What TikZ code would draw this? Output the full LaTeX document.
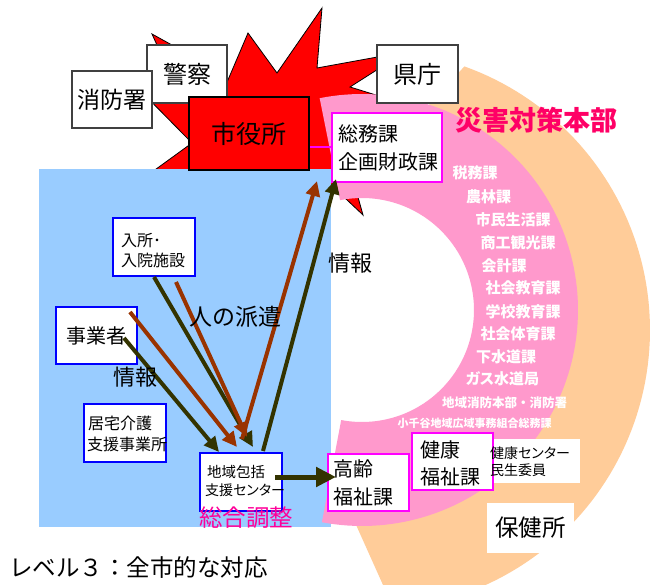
\documentclass[tikz,border=0pt]{standalone}
\usepackage{fontspec}
\usetikzlibrary{arrows.meta,calc}
\newfontfamily\jp{Noto Sans CJK JP}
\newfontfamily\jpp{Noto Sans CJK JP}[RawFeature=+palt]
\definecolor{skyb}{HTML}{99CCFF}
\definecolor{pinkr}{HTML}{FF99CC}
\definecolor{peach}{HTML}{FFCC99}
\definecolor{brn}{HTML}{993300}
\definecolor{olv}{HTML}{333300}
\definecolor{hotp}{HTML}{FF0066}
\definecolor{hotpb}{HTML}{FF0099}
\definecolor{starred}{HTML}{FF0000}
\definecolor{mag}{HTML}{FF00FF}
\definecolor{bbord}{HTML}{0000FF}
\tikzset{
  gbox/.style={draw=black!75, line width=1.2pt, fill=white, inner sep=0pt},
  redbox/.style={draw=black, line width=2pt, fill=starred, inner sep=0pt},
  mbox/.style={draw=mag, line width=2pt, fill=white, inner sep=0pt},
  bbox/.style={draw=bbord, line width=2pt, fill=white, inner sep=0pt},
  wbox/.style={fill=white, inner sep=0pt},
  txt/.style={inner sep=0pt, text=black},
  wlab/.style={inner sep=0pt, text=white, font=\jp\bfseries\fontsize{15}{15}\selectfont},
  brarrow/.style={draw=brn, line width=4pt, -{Triangle[length=15pt,width=14pt]}},
  olarrow/.style={draw=olv, line width=4pt, -{Triangle[length=15pt,width=14pt]}},
  bigarrow/.style={draw=olv, line width=5pt, -{Triangle[length=20pt,width=19pt]}},
}
\begin{document}
\begin{tikzpicture}[x=1pt,y=-1pt]
\useasboundingbox (0,0) rectangle (656,585);
\clip (0,0) rectangle (656,585);
\fill[white] (0,0) rectangle (656,585);

% explosion star
\draw[fill=starred, draw=black, line width=0.8pt, line join=miter]
  (152,34) -- (190,55) -- (222,94) -- (248,33) -- (277,73) -- (322,8) -- (317,68)
  -- (405,52) -- (350,87) -- (392,100) -- (335,115) -- (363,215) -- (328,182)
  -- (300,240) -- (265,178) -- (220,235) -- (205,172) -- (130,188) -- (192,143)
  -- (125,75) -- (175,85) -- cycle;

% blue area
\fill[skyb] (39,169) rectangle (331,527);

% peach band
\fill[peach] plot[domain=-70.3:80,samples=90] ({370+280*cos(\x)},{330+280*sin(\x)})
  -- (392,605) -- (357,527) -- (335,479)
  -- plot[domain=99.1:-78.9,samples=90] ({362+171*cos(\x)},{310+171*sin(\x)}) -- cycle;

% pink ring
\fill[pinkr] plot[domain=-101.3:100.7,samples=120] ({362+216*cos(\x)},{310+216*sin(\x)})
  -- plot[domain=100.7:-101.3,samples=120] ({362+112*cos(\x)},{310+112*sin(\x)}) -- cycle;

% top boxes
\node[gbox, minimum width=80pt, minimum height=58pt, font=\jp\fontsize{24}{24}\selectfont] (keisatsu) at (187,74) {警察};
\node[gbox, minimum width=80pt, minimum height=57pt, font=\jp\fontsize{23}{23}\selectfont] (shobo) at (112,99.5) {消防署};
\node[redbox, minimum width=120pt, minimum height=73pt, font=\jp\fontsize{25}{25}\selectfont] (shiyakusho) at (249,133.5) {市役所};
\node[gbox, minimum width=81pt, minimum height=58pt, font=\jp\fontsize{24}{24}\selectfont] (kencho) at (417.5,74) {県庁};

% somu box
\node[mbox, minimum width=110pt, minimum height=69pt] (somu) at (387,147.5) {};
\draw[draw=mag, line width=2pt] (shiyakusho.east |- somu.west) -- (somu.west);
\node[txt, anchor=west, font=\jp\fontsize{20}{20}\selectfont] (somuA) at (338,134) {総務課};
\node[txt, anchor=west, font=\jp\fontsize{20}{20}\selectfont] (somuB) at (338,162) {企画財政課};

\node[inner sep=0pt, text=hotp, font=\jp\bfseries\fontsize{27}{27}\selectfont] (saigai) at (536.5,120) {災害対策本部};

% department labels
\node[wlab] (l1) at (475,173) {税務課};
\node[wlab] (l2) at (488.5,197) {農林課};
\node[wlab] (l3) at (513,220) {市民生活課};
\node[wlab] (l4) at (518,243) {商工観光課};
\node[wlab] (l5) at (504,266) {会計課};
\node[wlab] (l6) at (523,288) {社会教育課};
\node[wlab] (l7) at (523,312) {学校教育課};
\node[wlab] (l8) at (518,334) {社会体育課};
\node[wlab] (l9) at (506,357) {下水道課};
\node[wlab, font=\jpp\bfseries\fontsize{15}{15}\selectfont] (l10) at (502.5,379) {ガス水道局};
\node[wlab, font=\jp\bfseries\fontsize{12.5}{12.5}\selectfont] (l11) at (504.5,403) {地域消防本部・消防署};
\node[wlab, font=\jp\bfseries\fontsize{11}{11}\selectfont] (l12) at (474.5,423) {小千谷地域広域事務組合総務課};

% lower right boxes
\node[mbox, minimum width=81pt, minimum height=57pt] (kenko) at (452.5,461.5) {};
\node[txt, anchor=west, font=\jp\fontsize{20}{20}\selectfont] (kenkoA) at (420,450) {健康};
\node[txt, anchor=west, font=\jp\fontsize{20}{20}\selectfont] (kenkoB) at (420,477) {福祉課};
\node[wbox, minimum width=86pt, minimum height=44pt] (kenkoC) at (537,461) {};
\node[txt, anchor=west, font=\jpp\fontsize{14}{14}\selectfont] (kenkoC1) at (490,453) {健康センター};
\node[txt, anchor=west, font=\jp\fontsize{14}{14}\selectfont] (kenkoC2) at (490,470) {民生委員};
\node[wbox, minimum width=87pt, minimum height=50pt, font=\jp\fontsize{23.5}{23.5}\selectfont] (hokenjo) at (530.5,528) {保健所};

\node[mbox, minimum width=81pt, minimum height=57pt] (korei) at (368.5,482.5) {};
\node[txt, anchor=west, font=\jp\fontsize{20}{20}\selectfont] (koreiA) at (333,469) {高齢};
\node[txt, anchor=west, font=\jp\fontsize{20}{20}\selectfont] (koreiB) at (333,497) {福祉課};

% blue-area boxes
\node[bbox, minimum width=82pt, minimum height=58pt] (nyusho) at (154,247) {};
\node[txt, anchor=west, font=\jp\fontsize{16}{16}\selectfont] (nyushoA) at (121,241) {入所･};
\node[txt, anchor=west, font=\jp\fontsize{16}{16}\selectfont] (nyushoB) at (121,260) {入院施設};

\node[bbox, minimum width=81pt, minimum height=57pt, font=\jp\fontsize{20}{20}\selectfont] (jigyosha) at (96.5,335.5) {事業者};

\node[bbox, minimum width=82pt, minimum height=58pt] (kyotaku) at (125,433) {};
\node[txt, anchor=west, font=\jp\fontsize{16}{16}\selectfont] (kyotakuA) at (88,423) {居宅介護};
\node[txt, anchor=west, font=\jp\fontsize{16}{16}\selectfont] (kyotakuB) at (87,444) {支援事業所};

\node[bbox, minimum width=82pt, minimum height=58pt] (chiiki) at (241,482) {};
\node[txt, anchor=west, font=\jp\fontsize{14.5}{14.5}\selectfont] (chiikiA) at (207,472) {地域包括};
\node[txt, anchor=west, font=\jpp\fontsize{14}{14}\selectfont] (chiikiB) at (205,490) {支援センター};

% arrows
\draw[olarrow] (nyusho.south) -- ($(chiiki.north)+(12,-5)$);
\draw[brarrow] ($(nyusho.south)+(22,5)$) -- ($(chiiki.north)+(6,-15)$);
\draw[brarrow] ($(jigyosha.north east)+(-8,6)$) -- ($(chiiki.north)+(-4,-5)$);
\draw[olarrow] ($(jigyosha.east)+(-14,2.5)$) -- ($(chiiki.north)+(-22,0)$);
\draw[brarrow] ($(chiiki.north)+(1,-13)$) -- ($(somu.south west)+(-14,-2)$);
\draw[olarrow] ($(chiiki.north)+(22,-1)$) -- ($(somu.south west)+(5,-4)$);
\draw[bigarrow] ($(chiiki.east)+(-8,-5)$) -- ($(korei.west)+(9,-5.5)$);

% labels
\node[txt, font=\jp\fontsize{22}{22}\selectfont] (joho1) at (135,377) {情報};
\node[txt, font=\jp\fontsize{23}{23}\selectfont] (haken) at (235,317) {人の派遣};
\node[txt, font=\jp\fontsize{22}{22}\selectfont] (joho2) at (350,263) {情報};
\node[inner sep=0pt, text=hotpb, font=\jp\fontsize{23.5}{23.5}\selectfont] (sogo) at (246,518) {総合調整};
\node[txt, anchor=west, font=\jp\fontsize{23.5}{23.5}\selectfont] (level) at (9,568) {レベル３：全市的な対応};
\end{tikzpicture}
\end{document}
